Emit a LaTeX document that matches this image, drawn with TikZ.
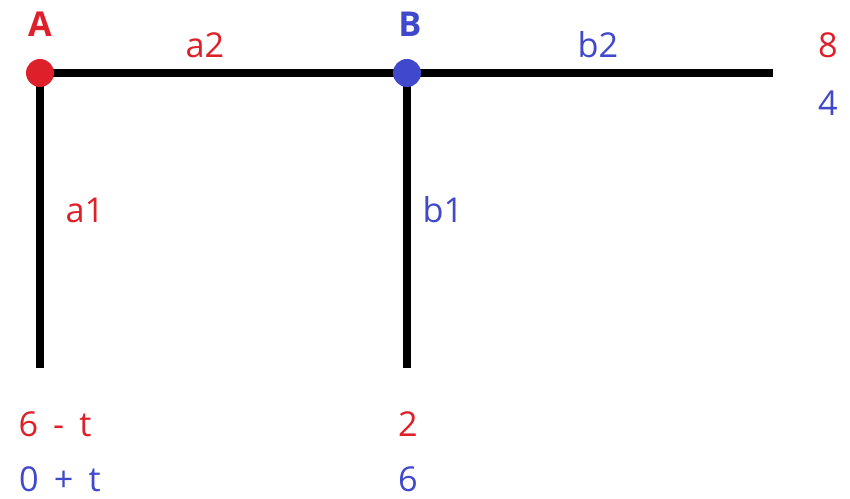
\documentclass[tikz,border=0pt]{standalone}
\usepackage{fontspec}
\setmainfont{Open Sans}[WordSpace=1.7]
\usetikzlibrary{positioning}
\definecolor{ptred}{RGB}{222,32,42}
\definecolor{ptblue}{RGB}{64,72,204}
\tikzset{
  wire/.style={line width=4.6pt,draw=black},
  junction/.style={circle,inner sep=0pt,minimum size=0.56cm},
  lbl/.style={font=\fontsize{19.5}{22}\selectfont},
  redlbl/.style={lbl,text=ptred},
  bluelbl/.style={lbl,text=ptblue}
}
\begin{document}
\begin{tikzpicture}[x=0.02cm,y=-0.02cm]
  \useasboundingbox (0,0) rectangle (850,499);
  \coordinate (A) at (40,73);
  \coordinate (B) at (407,73);
  \coordinate (e2) at (773,73);
  \coordinate (e1a) at (40,368);
  \coordinate (e1b) at (407,368);

  \draw[wire] (A) -- (e2);
  \draw[wire] (A) -- (e1a);
  \draw[wire] (B) -- (e1b);
  \node[junction,fill=ptred] (nA) at (A) {};
  \node[junction,fill=ptblue] (nB) at (B) {};

  \node[redlbl,font=\fontsize{19.5}{22}\selectfont\bfseries] (tA) at (40,24) {A};
  \node[bluelbl,font=\fontsize{19.5}{22}\selectfont\bfseries] (tB) at (410,24) {B};
  \node[redlbl] (ta2) at (205,45) {a2};
  \node[bluelbl] (tb2) at (598,45) {b2};
  \node[redlbl] (t8) at (828,45) {8};
  \node[bluelbl] (t4) at (828,103) {4};
  \node[redlbl] (ta1) at (85,210) {a1};
  \node[bluelbl] (tb1) at (443,210) {b1};
  \node[redlbl] (tsA) at (55,424) {6 - t};
  \node[bluelbl] (ttA) at (60,479) {0 + t};
  \node[redlbl] (tsB) at (408,424) {2};
  \node[bluelbl] (ttB) at (408,479) {6};
\end{tikzpicture}
\end{document}
